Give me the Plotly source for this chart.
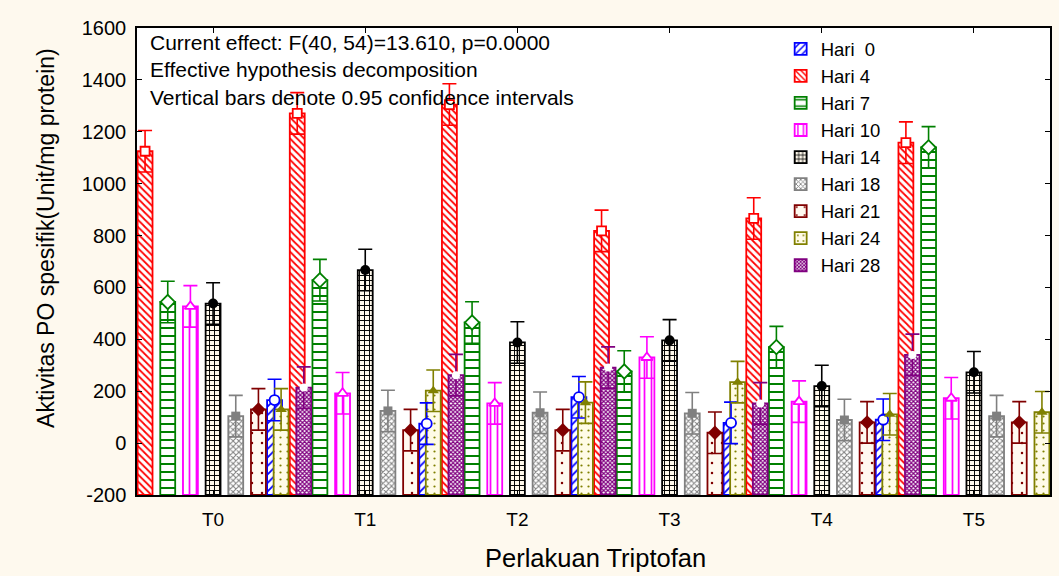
import numpy as np
import plotly.graph_objects as go

# ---------------- data ----------------
groups = ["T0", "T1", "T2", "T3", "T4", "T5"]
series_names = ["Hari\u00a0\u00a00", "Hari 4", "Hari 7", "Hari 10", "Hari 14",
                "Hari 18", "Hari 21", "Hari 24", "Hari 28"]
hari0 = [100, 166, 75, 177, 78, 90]
hari4 = [1125, 1271, 1305, 818, 866, 1158]
hari7 = [544, 628, 465, 276, 370, 1140]
hari10 = [527, 192, 153, 330, 160, 173]
hari14 = [538, 667, 388, 396, 220, 273]
hari18 = [104, 124, 117, 115, 89, 104]
hari21 = [130, 50, 50, 40, 80, 80]
hari24 = [130, 202, 156, 235, 111, 119]
hari28 = [214, 262, 291, 153, 340, 300]
ci95_half = 80  # half width of the 0.95 confidence interval

y_tickvals = [-200, 0, 200, 400, 600, 800, 1000, 1200, 1400, 1600]
y_ticktext = ["-200", "0", "200", "400", "600", "800", "1000", "1200", "1400", "1600"]

series_values = [hari0, hari4, hari7, hari10, hari14, hari18, hari21, hari24, hari28]

# ---------------- styles ----------------
BASE = -200  # bars are drawn up from the bottom of the value axis
colors = ["#0000FF", "#FF0000", "#008000", "#FF00FF", "#000000",
          "#808080", "#800000", "#808000", "#800080"]
bgcols = ["#FFFFFF", "#FFFFFF", "#FFFFFF", "#FFFFFF", "#FFF9EC",
          "#FFFFFF", "#FFF9F0", "#FFFBE6", "#FFFFFF"]
patterns = [
    dict(shape="/", size=6, solidity=0.3),
    dict(shape="\\", size=5, solidity=0.35),
    dict(shape="-", size=8, solidity=0.25),
    dict(shape="|", size=7, solidity=0.25),
    dict(shape="+", size=5, solidity=0.35),
    dict(shape="x", size=4, solidity=0.45),
    dict(shape=".", size=10, solidity=0.05),
    dict(shape=".", size=7, solidity=0.08),
    dict(shape="x", size=3, solidity=0.65),
]
markers = [
    dict(symbol="circle", size=10, color="#FFFFFF", line=dict(color="#0000FF", width=1.8)),
    dict(symbol="square", size=9, color="#FFFFFF", line=dict(color="#FF0000", width=1.8)),
    dict(symbol="diamond", size=11, color="#FFFFFF", line=dict(color="#008000", width=1.8)),
    dict(symbol="triangle-up", size=10, color="#FFFFFF", line=dict(color="#FF00FF", width=1.8)),
    dict(symbol="circle", size=10, color="#000000", line=dict(width=0)),
    dict(symbol="square", size=9, color="#808080", line=dict(width=0)),
    dict(symbol="diamond", size=11, color="#800000", line=dict(width=0)),
    dict(symbol="triangle-up", size=10, color="#808000", line=dict(width=0)),
    dict(symbol="circle", size=8, color="#FFFFFF", line=dict(width=0)),
]

PITCH = 0.149   # distance between neighbouring bars (axis units)
BAR_W = 0.098   # bar width (axis units)
FONT = "Liberation Sans, Arial, sans-serif"

gx = np.arange(len(groups))

fig = go.Figure()
n = len(series_values)
for k, (name, vals) in enumerate(zip(series_names, series_values)):
    shift = (k - (n - 1) / 2) * PITCH
    fig.add_trace(go.Bar(
        x=gx, y=np.array(vals) - BASE, base=BASE, name=name,
        offset=shift - BAR_W / 2, width=BAR_W,
        marker=dict(
            color=bgcols[k],
            line=dict(color=colors[k], width=1.8),
            pattern=dict(fgcolor=colors[k], bgcolor=bgcols[k], fillmode="replace", **patterns[k]),
        ),
        hoverinfo="skip",
    ))
for k, (name, vals) in enumerate(zip(series_names, series_values)):
    shift = (k - (n - 1) / 2) * PITCH
    fig.add_trace(go.Scatter(
        x=gx + shift, y=vals, mode="markers",
        marker=markers[k],
        error_y=dict(type="constant", value=ci95_half, color=colors[k], thickness=1.6, width=7),
        showlegend=False, cliponaxis=True, hoverinfo="skip",
    ))

fig.update_layout(
    width=1059, height=576,
    margin=dict(l=137, r=7, t=28, b=81),
    paper_bgcolor="#FEF9EE", plot_bgcolor="#FFFFFF",
    barmode="overlay",
    font=dict(family=FONT, color="#000000", size=20),
    showlegend=True,
    legend=dict(x=0.705, y=0.995, xanchor="left", yanchor="top",
                bgcolor="rgba(0,0,0,0)", font=dict(size=18.5, family=FONT),
                traceorder="normal", itemclick=False),
    xaxis=dict(range=[-0.5, 5.5], tickmode="array", tickvals=gx, ticktext=groups,
               showgrid=False, zeroline=False, showline=True, linecolor="#000000",
               linewidth=1.5, mirror="ticks", ticks="inside", ticklen=5,
               tickcolor="#000000", tickfont=dict(size=19), ticklabelstandoff=6),
    yaxis=dict(range=[-200, 1600], tickmode="array", tickvals=y_tickvals, ticktext=y_ticktext,
               showgrid=False, zeroline=False,
               showline=True, linecolor="#000000", linewidth=1.5, mirror="ticks",
               ticks="inside", ticklen=5, tickcolor="#000000",
               tickfont=dict(size=20), ticklabelstandoff=5),
    annotations=[
        dict(text="Current effect: F(40, 54)=13.610, p=0.0000<br>"
                  "Effective hypothesis decomposition<br>"
                  "Vertical bars denote 0.95 confidence intervals",
             xref="paper", yref="paper", x=0.012, y=0.997, xanchor="left", yanchor="top",
             align="left", showarrow=False, font=dict(size=21)),
        dict(text="Aktivitas PO spesifik(Unit/mg protein)", xref="paper", yref="paper",
             x=-0.1005, y=0.551, xanchor="center", yanchor="middle", textangle=-90,
             showarrow=False, font=dict(size=23)),
        dict(text="Perlakuan Triptofan", xref="paper", yref="paper",
             x=0.502, y=-0.135, xanchor="center", yanchor="middle",
             showarrow=False, font=dict(size=25.5)),
    ],
)

fig.write_html("out.html")
